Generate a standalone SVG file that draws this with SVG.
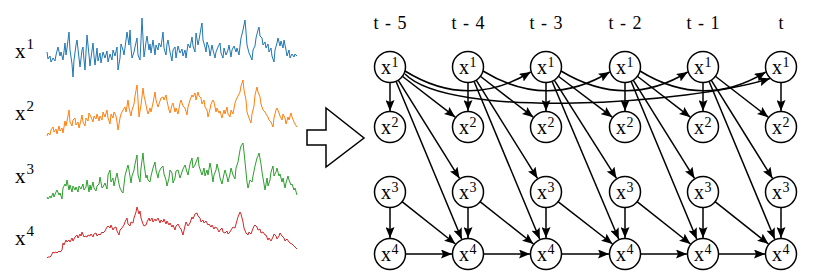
<svg xmlns="http://www.w3.org/2000/svg" width="830" height="275" viewBox="0 0 830 275">
<style>
.ser{fill:none;stroke-width:1;stroke-linejoin:round}
.lbl{font-family:"Liberation Serif","Times New Roman",serif;fill:#000}
.big{font-size:21px}
.bsup{font-size:15px}
.nx{font-size:20px}
.nsup{font-size:14px}
.tl{font-family:"Liberation Serif","Times New Roman",serif;font-size:18px;text-anchor:middle;word-spacing:2px}
.nd circle{fill:#fff;stroke:#000;stroke-width:1.5}
#edges path{fill:none;stroke:#000;stroke-width:1.5;marker-end:url(#ah)}
</style>
<defs>
<marker id="ah" viewBox="0 0 11 9" refX="11" refY="4.5" markerWidth="11" markerHeight="9" markerUnits="userSpaceOnUse" orient="auto">
<path d="M0,0 L11,4.5 L0,9 L2,4.5 z" fill="#000"/>
</marker>
</defs>
<rect width="830" height="275" fill="#fff"/>

<g id="series">
<polyline class="ser" stroke="#1f77b4" points="47,52 48,59 50,56 51,62 53,58 55,61 56,55 58,47 60,56 61,52 63,60 65,43 66,55 67,48 69,32 70,50 72,64 73,77 74,60 76,45 77,40 79,58 80,67 82,50 83,47 84,60 85,70 86,52 87,35 89,55 90,66 91,58 93,43 94,56 95,65 97,48 98,61 100,53 101,63 103,52 105,58 107,51 108,62 110,54 112,60 113,50 115,56 117,47 118,70 120,58 121,44 123,50 124,55 126,40 127,32 129,45 130,30 131,48 132,58 134,52 135,47 137,38 138,55 140,60 141,40 142,18 143,38 144,57 145,50 146,42 147,36 149,50 150,44 151,53 153,40 155,55 156,45 158,50 159,43 161,47 163,32 164,48 166,55 167,44 168,40 170,52 172,61 173,50 175,47 176,58 178,46 180,53 182,49 183,56 185,50 186,58 188,44 190,48 192,37 193,46 195,52 196,33 198,45 199,40 201,28 202,23 203,40 205,47 206,52 207,42 209,48 210,56 212,45 213,50 215,58 216,52 218,47 220,43 221,53 223,58 224,48 226,55 228,50 229,45 231,57 232,50 234,46 236,52 237,48 239,55 240,46 241,38 243,30 245,20 246,32 247,45 249,53 250,55 252,60 253,50 255,46 256,38 258,30 259,27 260,36 262,38 263,45 265,42 266,48 268,44 269,52 271,48 272,56 274,62 275,50 277,43 278,38 280,46 281,41 283,48 284,40 286,50 287,56 289,50 290,58 292,54 294,57 295,54 297,56"/>
<polyline class="ser" stroke="#ff7f0e" points="47,136 48,133 50,135 51,130 53,127 54,132 56,129 57,134 59,126 60,131 62,128 63,133 65,121 66,126 68,116 69,110 70,122 72,126 73,120 75,118 76,125 78,122 79,128 81,120 82,115 83,122 85,126 86,118 88,121 89,113 91,117 93,122 94,116 96,119 97,114 99,121 100,116 102,120 103,112 105,117 107,110 108,118 110,124 111,114 113,118 114,112 116,116 117,122 118,130 120,118 121,114 123,110 125,107 126,112 128,100 129,108 131,116 132,110 134,104 135,96 137,85 138,100 139,117 141,105 143,88 144,96 145,100 147,110 148,114 150,108 151,112 153,103 155,92 156,100 158,107 159,104 161,98 163,97 164,100 166,95 167,101 169,110 170,113 172,105 173,103 175,112 176,108 178,114 180,103 181,100 183,106 185,108 187,115 188,107 190,100 192,95 193,97 195,93 196,100 198,92 199,96 201,98 202,104 204,100 205,107 207,110 208,117 210,109 211,104 213,100 214,102 216,112 217,108 219,113 220,111 222,118 224,110 225,114 227,107 228,114 230,117 231,110 233,114 235,103 236,100 238,96 240,92 241,86 243,80 244,90 246,100 247,112 249,118 251,123 252,114 254,106 255,95 257,87 258,92 260,97 261,104 263,110 265,112 266,114 268,117 269,120 271,122 273,127 274,118 276,110 277,108 279,113 280,116 282,120 283,114 285,118 286,124 288,117 289,120 291,113 292,117 294,122 295,124 297,127"/>
<polyline class="ser" stroke="#2ca02c" points="47,197 48,199 50,196 51,198 53,193 54,197 56,192 57,190 59,195 60,193 62,199 63,188 65,184 66,186 67,180 69,190 70,185 72,192 73,186 75,190 76,187 78,192 79,186 81,189 83,184 84,190 86,187 87,180 89,192 90,185 91,190 93,182 94,188 96,191 97,186 99,184 100,177 102,188 103,187 105,183 107,189 108,175 110,170 111,182 113,178 114,186 116,177 117,173 119,184 120,188 122,192 123,193 125,176 126,172 128,165 129,170 131,183 132,176 134,170 135,164 137,155 138,175 140,182 141,168 143,153 144,164 146,178 147,175 148,180 150,182 151,176 153,168 155,162 156,170 158,178 159,172 161,168 163,166 164,174 166,180 167,186 169,178 170,170 172,173 173,183 175,178 176,171 178,170 180,178 182,172 183,169 185,165 187,172 188,175 190,164 192,158 193,168 195,165 196,162 198,157 199,166 201,172 202,175 204,168 205,176 207,170 208,175 210,163 211,168 213,182 214,175 216,170 217,164 219,172 220,178 222,184 224,174 225,170 227,177 228,182 230,174 231,168 233,175 235,179 236,168 238,162 240,150 241,146 243,143 244,152 246,172 247,182 248,188 250,180 252,182 253,176 255,166 257,158 258,156 259,153 261,164 262,172 264,184 265,190 267,178 268,186 270,180 271,172 273,166 274,176 276,172 277,168 279,176 280,174 282,182 283,178 285,188 286,183 288,176 289,180 291,185 292,184 294,190 295,188 297,195"/>
<polyline class="ser" stroke="#d62728" points="47,258 48,257 50,257 51,256 53,252 54,253 56,252 57,253 59,251 60,252 62,250 63,243 64,245 66,240 67,242 69,240 70,242 72,238 73,241 75,237 77,235 78,238 80,234 81,236 82,232 84,237 85,236 87,237 88,235 90,236 91,234 93,237 94,234 96,233 97,236 99,234 100,235 102,232 103,233 105,231 107,227 108,226 110,228 111,225 113,230 114,228 116,227 117,231 119,235 120,230 122,228 124,225 125,222 127,218 128,224 130,226 131,222 133,223 134,218 136,212 137,207 139,214 140,211 141,218 143,224 144,226 146,225 147,222 149,218 150,221 152,218 153,222 155,219 156,221 158,218 160,223 161,220 163,222 164,219 166,224 167,221 169,225 170,223 172,227 173,225 175,230 176,226 178,224 180,228 181,229 183,235 185,226 186,222 188,226 190,223 192,217 193,219 195,214 197,213 198,216 200,218 201,222 203,220 204,223 206,221 208,225 209,224 211,227 212,225 214,229 215,227 217,228 219,232 220,230 222,228 223,232 225,233 227,231 228,234 230,232 231,230 233,227 235,228 236,224 238,217 240,212 241,214 243,222 244,228 246,233 248,235 249,232 251,234 252,231 254,226 255,225 257,227 258,230 260,229 261,233 263,232 265,235 266,235 268,240 269,238 271,241 273,237 274,234 276,236 277,239 279,236 280,233 282,236 284,238 285,241 287,239 289,242 290,243 292,244 294,246 295,247 297,249"/>
</g>

<g id="series-labels" class="lbl">
<text class="big" x="15" y="58">x</text><text class="bsup" x="26.5" y="49">1</text>
<text class="big" x="15" y="120">x</text><text class="bsup" x="26.5" y="111">2</text>
<text class="big" x="15" y="183">x</text><text class="bsup" x="26.5" y="174">3</text>
<text class="big" x="15" y="245">x</text><text class="bsup" x="26.5" y="236">4</text>
</g>

<polygon id="big-arrow" points="307,130 326,130 326,108 364,138 326,167 326,145 307,145" fill="#fff" stroke="#000" stroke-width="1.5" stroke-linejoin="miter"/>

<g id="time-labels" class="tl">
<text x="390" y="29">t - 5</text>
<text x="468" y="29">t - 4</text>
<text x="546" y="29">t - 3</text>
<text x="625" y="29">t - 2</text>
<text x="703" y="29">t - 1</text>
<text x="781" y="29">t</text>
</g>

<g id="edges">
<path d="M390,82.5 L390,111"/><path d="M468,82.5 L468,111"/><path d="M546,82.5 L546,111"/><path d="M625,82.5 L625,111"/><path d="M703,82.5 L703,111"/><path d="M781,82.5 L781,111"/>
<path d="M390,207.5 L390,238"/><path d="M468,207.5 L468,238"/><path d="M546,207.5 L546,238"/><path d="M625,207.5 L625,238"/><path d="M703,207.5 L703,238"/><path d="M781,207.5 L781,238"/>
<path d="M402,76 L455.3,117.2"/><path d="M397.9,79.7 L459.5,178.4"/><path d="M395.8,80.8 L461.8,239.2"/><path d="M401.7,201.3 L455.5,244"/><path d="M405.5,254 L452,254"/>
<path d="M480,76 L533.3,117.2"/><path d="M475.9,79.7 L537.5,178.4"/><path d="M473.8,80.8 L539.8,239.2"/><path d="M479.7,201.3 L533.5,244"/><path d="M483.5,254 L530,254"/>
<path d="M558,76 L612.3,117.2"/><path d="M553.9,79.7 L616.5,178.4"/><path d="M551.8,80.8 L618.8,239.2"/><path d="M557.7,201.3 L612.5,244"/><path d="M561.5,254 L609,254"/>
<path d="M637,76 L690.3,117.2"/><path d="M632.9,79.7 L694.5,178.4"/><path d="M630.8,80.8 L696.8,239.2"/><path d="M636.7,201.3 L690.5,244"/><path d="M640.5,254 L687,254"/>
<path d="M715,76 L768.3,117.2"/><path d="M710.9,79.7 L772.5,178.4"/><path d="M708.8,80.8 L774.8,239.2"/><path d="M714.7,201.3 L768.5,244"/><path d="M718.5,254 L765,254"/>
<path d="M405,71 Q468,110 530.7,72"/>
<path d="M483,71 Q546.5,110 609.7,72"/>
<path d="M561,71 Q625.5,110 687.7,72"/>
<path d="M640,71 Q703,110 765.7,72"/>
<path d="M405,74 C450,120 690,104 770,78.5"/>
</g>

<g id="nodes" class="lbl">
<g id="n1-t5" class="nd"><circle cx="390" cy="67" r="15.5"/><text class="nx" x="381" y="74">x</text><text class="nsup" x="391.5" y="67">1</text></g>
<g id="n1-t4" class="nd"><circle cx="468" cy="67" r="15.5"/><text class="nx" x="459" y="74">x</text><text class="nsup" x="469.5" y="67">1</text></g>
<g id="n1-t3" class="nd"><circle cx="546" cy="67" r="15.5"/><text class="nx" x="537" y="74">x</text><text class="nsup" x="547.5" y="67">1</text></g>
<g id="n1-t2" class="nd"><circle cx="625" cy="67" r="15.5"/><text class="nx" x="616" y="74">x</text><text class="nsup" x="626.5" y="67">1</text></g>
<g id="n1-t1" class="nd"><circle cx="703" cy="67" r="15.5"/><text class="nx" x="694" y="74">x</text><text class="nsup" x="704.5" y="67">1</text></g>
<g id="n1-t0" class="nd"><circle cx="781" cy="67" r="15.5"/><text class="nx" x="772" y="74">x</text><text class="nsup" x="782.5" y="67">1</text></g>

<g id="n2-t5" class="nd"><circle cx="390" cy="127" r="15.5"/><text class="nx" x="381" y="134">x</text><text class="nsup" x="391.5" y="127">2</text></g>
<g id="n2-t4" class="nd"><circle cx="468" cy="127" r="15.5"/><text class="nx" x="459" y="134">x</text><text class="nsup" x="469.5" y="127">2</text></g>
<g id="n2-t3" class="nd"><circle cx="546" cy="127" r="15.5"/><text class="nx" x="537" y="134">x</text><text class="nsup" x="547.5" y="127">2</text></g>
<g id="n2-t2" class="nd"><circle cx="625" cy="127" r="15.5"/><text class="nx" x="616" y="134">x</text><text class="nsup" x="626.5" y="127">2</text></g>
<g id="n2-t1" class="nd"><circle cx="703" cy="127" r="15.5"/><text class="nx" x="694" y="134">x</text><text class="nsup" x="704.5" y="127">2</text></g>
<g id="n2-t0" class="nd"><circle cx="781" cy="127" r="15.5"/><text class="nx" x="772" y="134">x</text><text class="nsup" x="782.5" y="127">2</text></g>

<g id="n3-t5" class="nd"><circle cx="390" cy="192" r="15.5"/><text class="nx" x="381" y="199">x</text><text class="nsup" x="391.5" y="192">3</text></g>
<g id="n3-t4" class="nd"><circle cx="468" cy="192" r="15.5"/><text class="nx" x="459" y="199">x</text><text class="nsup" x="469.5" y="192">3</text></g>
<g id="n3-t3" class="nd"><circle cx="546" cy="192" r="15.5"/><text class="nx" x="537" y="199">x</text><text class="nsup" x="547.5" y="192">3</text></g>
<g id="n3-t2" class="nd"><circle cx="625" cy="192" r="15.5"/><text class="nx" x="616" y="199">x</text><text class="nsup" x="626.5" y="192">3</text></g>
<g id="n3-t1" class="nd"><circle cx="703" cy="192" r="15.5"/><text class="nx" x="694" y="199">x</text><text class="nsup" x="704.5" y="192">3</text></g>
<g id="n3-t0" class="nd"><circle cx="781" cy="192" r="15.5"/><text class="nx" x="772" y="199">x</text><text class="nsup" x="782.5" y="192">3</text></g>

<g id="n4-t5" class="nd"><circle cx="390" cy="254" r="15.5"/><text class="nx" x="381" y="261">x</text><text class="nsup" x="391.5" y="254">4</text></g>
<g id="n4-t4" class="nd"><circle cx="468" cy="254" r="15.5"/><text class="nx" x="459" y="261">x</text><text class="nsup" x="469.5" y="254">4</text></g>
<g id="n4-t3" class="nd"><circle cx="546" cy="254" r="15.5"/><text class="nx" x="537" y="261">x</text><text class="nsup" x="547.5" y="254">4</text></g>
<g id="n4-t2" class="nd"><circle cx="625" cy="254" r="15.5"/><text class="nx" x="616" y="261">x</text><text class="nsup" x="626.5" y="254">4</text></g>
<g id="n4-t1" class="nd"><circle cx="703" cy="254" r="15.5"/><text class="nx" x="694" y="261">x</text><text class="nsup" x="704.5" y="254">4</text></g>
<g id="n4-t0" class="nd"><circle cx="781" cy="254" r="15.5"/><text class="nx" x="772" y="261">x</text><text class="nsup" x="782.5" y="254">4</text></g>
</g>
</svg>
